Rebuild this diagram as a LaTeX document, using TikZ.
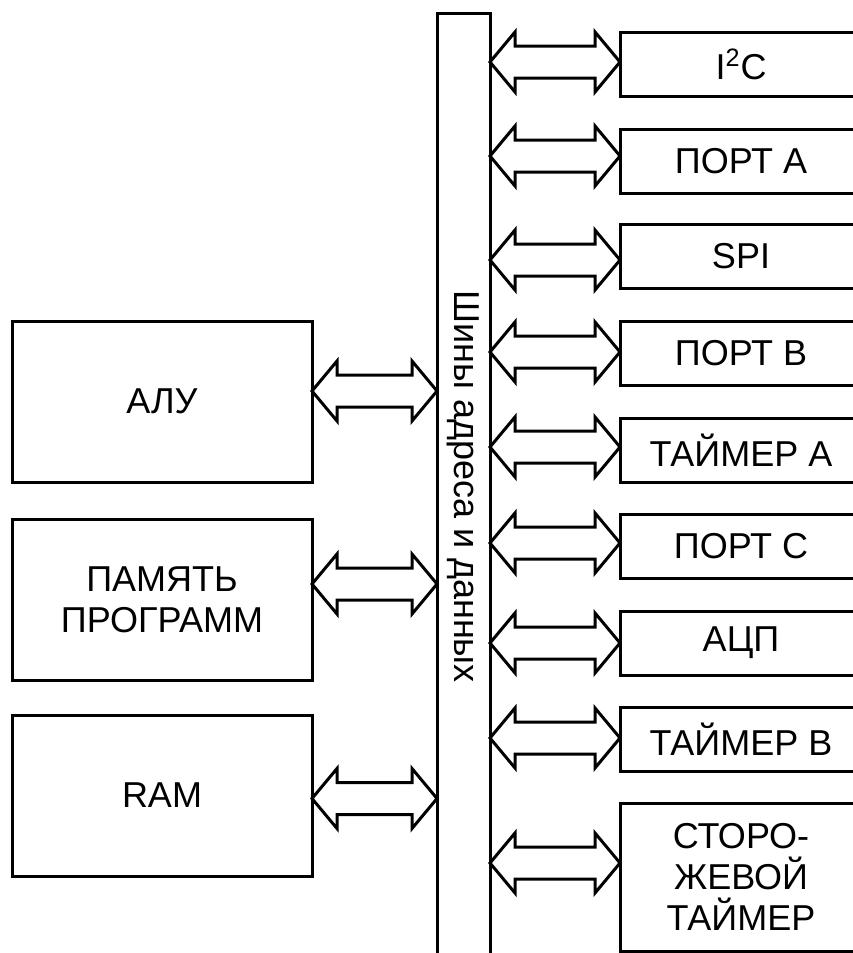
\documentclass[tikz,border=0pt]{standalone}
\usepackage{fontspec}
\setmainfont{Liberation Sans}
\usetikzlibrary{calc}

\begin{document}
\begin{tikzpicture}[
    x=0.5pt, y=-0.5pt,
    line width=1.5pt,
    box/.style={draw, outer sep=0pt, inner sep=0pt, align=center,
      font=\fontsize{18}{20.5}\selectfont},
    unit/.style={box, minimum width=150pt, minimum height=80.5pt},
    periph/.style={box, minimum width=121pt, minimum height=32pt},
    dblarrow/.style={to path={let \p1=(\tikztostart), \p2=(\tikztotarget),
        \p3=($(\x1,\y1)!12.5pt!(\x2,\y1)$), \p4=($(\x2,\y1)!12.5pt!(\x1,\y1)$) in
        -- (\x3,\y1+15pt) -- (\x3,\y1+8pt) -- (\x4,\y1+8pt) -- (\x4,\y1+15pt)
        -- (\x2,\y1) -- (\x4,\y1-15pt) -- (\x4,\y1-8pt) -- (\x3,\y1-8pt)
        -- (\x3,\y1-15pt) -- cycle}},
  ]
  \useasboundingbox (0,0) rectangle (852,953);

  % core blocks
  \node[unit] (alu) at (162,401.5) {АЛУ};
  \node[unit] (prog) at (162,599.5) {ПАМЯТЬ\\ПРОГРАММ};
  \node[unit] (ram) at (162,795.5) {RAM};

  % bus
  \node[box, minimum width=26.5pt, minimum height=473.5pt] (bus) at (463.5,486.5) {};
  \node[rotate=-90, font=\fontsize{18}{20.5}\selectfont] (bustext) at (bus) {Шины адреса и данных};

  % peripherals
  \node[periph] (i2c) at (741,64.5) {I\textsuperscript{2}C};
  \node[periph] (porta) at (741,161) {ПОРТ А};
  \node[periph] (spi) at (741,256.5) {SPI};
  \node[periph] (portb) at (741,353) {ПОРТ В};
  \node[periph] (tima) at (741,450) {ТАЙМЕР А};
  \node[periph] (portc) at (741,546.5) {ПОРТ С};
  \node[periph] (adc) at (741,643) {АЦП};
  \node[periph] (timb) at (741,739.5) {ТАЙМЕР В};
  \node[periph, minimum height=74pt] (wdt) at (741,877) {СТОРО-\\ЖЕВОЙ\\ТАЙМЕР};

  \draw[dblarrow] ([yshift=5.25pt]alu.east) to (bus.west);
  \draw[dblarrow] ([yshift=7.75pt]prog.east) to (bus.west);
  \draw[dblarrow] ([yshift=-1.5pt]ram.east) to (bus.west);

  \draw[dblarrow] ([yshift=1.25pt]i2c.west) to (bus.east);
  \draw[dblarrow] ([yshift=2.5pt]porta.west) to (bus.east);
  \draw[dblarrow] ([yshift=-1.75pt]spi.west) to (bus.east);
  \draw[dblarrow] ([yshift=0.5pt]portb.west) to (bus.east);
  \draw[dblarrow] ([yshift=1.5pt]tima.west) to (bus.east);
  \draw[dblarrow] ([yshift=1.75pt]portc.west) to (bus.east);
  \draw[dblarrow] (adc.west) to (bus.east);
  \draw[dblarrow] ([yshift=0.75pt]timb.west) to (bus.east);
  \draw[dblarrow] ([yshift=7pt]wdt.west) to (bus.east);
\end{tikzpicture}
\end{document}
